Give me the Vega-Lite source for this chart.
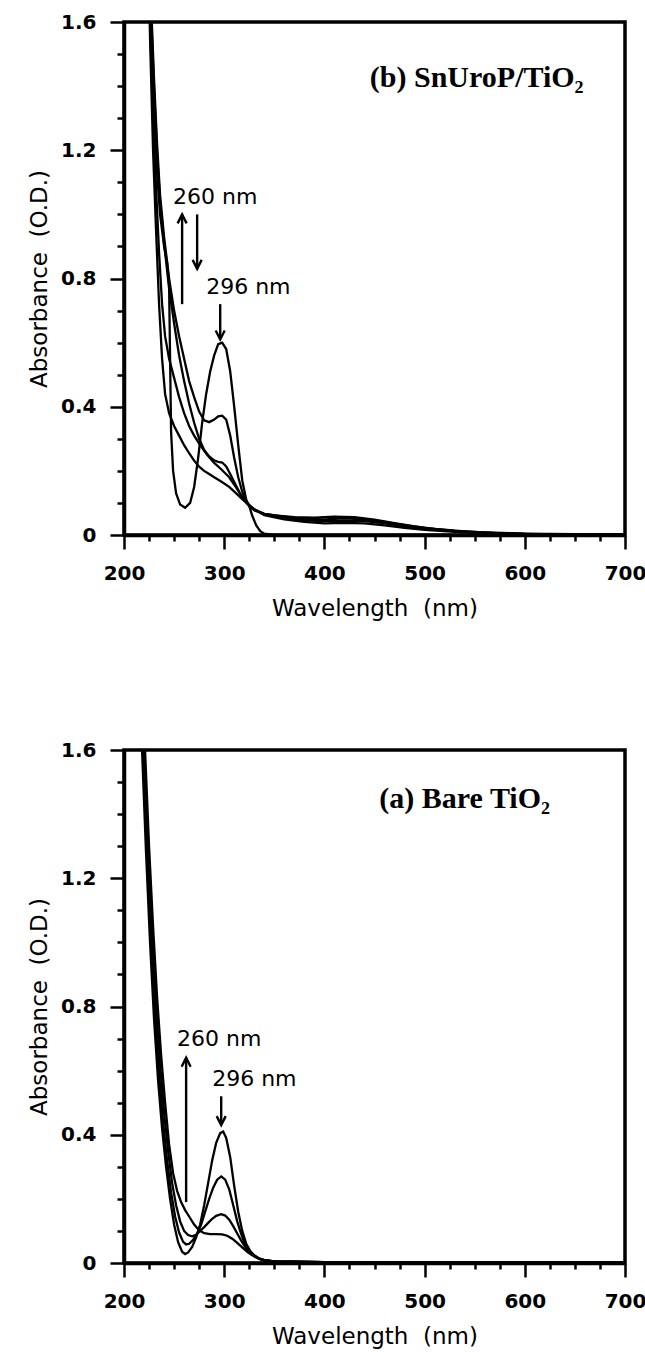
{
  "$schema": "https://vega.github.io/schema/vega-lite/v6.json",
  "background": "white",
  "padding": {"left": 26, "top": 10, "right": 0, "bottom": 0},
  "autosize": {"type": "pad"},
  "bounds": "flush",
  "spacing": 215,
  "config": {
    "view": {"stroke": "black", "strokeWidth": 3.5},
    "font": "DejaVu Sans",
    "axis": {"grid": false, "domainColor": "black", "domainWidth": 3.5, "tickColor": "black", "tickWidth": 2.5, "labelColor": "black", "titleColor": "black", "labelFont": "DejaVu Sans", "labelFontWeight": "bold", "labelFontSize": 20, "titleFont": "DejaVu Sans", "titleFontWeight": "normal", "titleFontSize": 23, "labelOverlap": false, "labelFlush": false, "labelBound": false}
  },
  "datasets": {
    "curves": [
      {"p":"b","c":"A","wl":224,"a":2.0},{"p":"b","c":"A","wl":227,"a":1.6},{"p":"b","c":"A","wl":230,"a":1.32},{"p":"b","c":"A","wl":233,"a":1.13},{"p":"b","c":"A","wl":236,"a":1.0},{"p":"b","c":"A","wl":240,"a":0.9},{"p":"b","c":"A","wl":243,"a":0.85},{"p":"b","c":"A","wl":245,"a":0.78},{"p":"b","c":"A","wl":246,"a":0.55},{"p":"b","c":"A","wl":247,"a":0.32},{"p":"b","c":"A","wl":249,"a":0.2},{"p":"b","c":"A","wl":252,"a":0.13},{"p":"b","c":"A","wl":256,"a":0.095},{"p":"b","c":"A","wl":261,"a":0.085},{"p":"b","c":"A","wl":266,"a":0.1},{"p":"b","c":"A","wl":270,"a":0.15},{"p":"b","c":"A","wl":274,"a":0.24},{"p":"b","c":"A","wl":278,"a":0.35},{"p":"b","c":"A","wl":282,"a":0.44},{"p":"b","c":"A","wl":286,"a":0.51},{"p":"b","c":"A","wl":290,"a":0.56},{"p":"b","c":"A","wl":294,"a":0.595},{"p":"b","c":"A","wl":298,"a":0.6},{"p":"b","c":"A","wl":302,"a":0.58},{"p":"b","c":"A","wl":306,"a":0.51},{"p":"b","c":"A","wl":310,"a":0.4},{"p":"b","c":"A","wl":314,"a":0.28},{"p":"b","c":"A","wl":318,"a":0.17},{"p":"b","c":"A","wl":322,"a":0.11},{"p":"b","c":"A","wl":325,"a":0.09},{"p":"b","c":"A","wl":328,"a":0.06},{"p":"b","c":"A","wl":332,"a":0.03},{"p":"b","c":"A","wl":336,"a":0.012},{"p":"b","c":"A","wl":340,"a":0.004},{"p":"b","c":"A","wl":350,"a":0},{"p":"b","c":"A","wl":700,"a":0},
      {"p":"b","c":"B","wl":224,"a":2.0},{"p":"b","c":"B","wl":227,"a":1.66},{"p":"b","c":"B","wl":230,"a":1.42},{"p":"b","c":"B","wl":233,"a":1.22},{"p":"b","c":"B","wl":236,"a":1.06},{"p":"b","c":"B","wl":240,"a":0.93},{"p":"b","c":"B","wl":245,"a":0.8},{"p":"b","c":"B","wl":250,"a":0.7},{"p":"b","c":"B","wl":255,"a":0.62},{"p":"b","c":"B","wl":260,"a":0.55},{"p":"b","c":"B","wl":265,"a":0.48},{"p":"b","c":"B","wl":270,"a":0.43},{"p":"b","c":"B","wl":275,"a":0.385},{"p":"b","c":"B","wl":280,"a":0.358},{"p":"b","c":"B","wl":285,"a":0.352},{"p":"b","c":"B","wl":290,"a":0.36},{"p":"b","c":"B","wl":294,"a":0.37},{"p":"b","c":"B","wl":298,"a":0.372},{"p":"b","c":"B","wl":302,"a":0.36},{"p":"b","c":"B","wl":306,"a":0.31},{"p":"b","c":"B","wl":310,"a":0.24},{"p":"b","c":"B","wl":314,"a":0.18},{"p":"b","c":"B","wl":318,"a":0.135},{"p":"b","c":"B","wl":322,"a":0.105},{"p":"b","c":"B","wl":326,"a":0.088},{"p":"b","c":"B","wl":330,"a":0.077},{"p":"b","c":"B","wl":340,"a":0.066},{"p":"b","c":"B","wl":350,"a":0.061},{"p":"b","c":"B","wl":370,"a":0.056},{"p":"b","c":"B","wl":390,"a":0.054},{"p":"b","c":"B","wl":410,"a":0.057},{"p":"b","c":"B","wl":430,"a":0.056},{"p":"b","c":"B","wl":450,"a":0.048},{"p":"b","c":"B","wl":470,"a":0.037},{"p":"b","c":"B","wl":490,"a":0.027},{"p":"b","c":"B","wl":510,"a":0.019},{"p":"b","c":"B","wl":540,"a":0.011},{"p":"b","c":"B","wl":570,"a":0.006},{"p":"b","c":"B","wl":620,"a":0.003},{"p":"b","c":"B","wl":700,"a":0.001},
      {"p":"b","c":"C","wl":224,"a":2.0},{"p":"b","c":"C","wl":227,"a":1.63},{"p":"b","c":"C","wl":230,"a":1.39},{"p":"b","c":"C","wl":233,"a":1.19},{"p":"b","c":"C","wl":236,"a":1.04},{"p":"b","c":"C","wl":240,"a":0.91},{"p":"b","c":"C","wl":245,"a":0.77},{"p":"b","c":"C","wl":250,"a":0.66},{"p":"b","c":"C","wl":255,"a":0.56},{"p":"b","c":"C","wl":260,"a":0.48},{"p":"b","c":"C","wl":265,"a":0.41},{"p":"b","c":"C","wl":270,"a":0.35},{"p":"b","c":"C","wl":275,"a":0.3},{"p":"b","c":"C","wl":280,"a":0.265},{"p":"b","c":"C","wl":285,"a":0.245},{"p":"b","c":"C","wl":290,"a":0.233},{"p":"b","c":"C","wl":294,"a":0.228},{"p":"b","c":"C","wl":298,"a":0.226},{"p":"b","c":"C","wl":302,"a":0.214},{"p":"b","c":"C","wl":306,"a":0.19},{"p":"b","c":"C","wl":310,"a":0.165},{"p":"b","c":"C","wl":315,"a":0.135},{"p":"b","c":"C","wl":320,"a":0.108},{"p":"b","c":"C","wl":325,"a":0.09},{"p":"b","c":"C","wl":330,"a":0.078},{"p":"b","c":"C","wl":340,"a":0.066},{"p":"b","c":"C","wl":360,"a":0.057},{"p":"b","c":"C","wl":380,"a":0.051},{"p":"b","c":"C","wl":400,"a":0.049},{"p":"b","c":"C","wl":420,"a":0.052},{"p":"b","c":"C","wl":440,"a":0.049},{"p":"b","c":"C","wl":460,"a":0.041},{"p":"b","c":"C","wl":480,"a":0.031},{"p":"b","c":"C","wl":500,"a":0.022},{"p":"b","c":"C","wl":530,"a":0.013},{"p":"b","c":"C","wl":560,"a":0.008},{"p":"b","c":"C","wl":600,"a":0.004},{"p":"b","c":"C","wl":700,"a":0.001},
      {"p":"b","c":"D","wl":223,"a":2.0},{"p":"b","c":"D","wl":226,"a":1.6},{"p":"b","c":"D","wl":229,"a":1.3},{"p":"b","c":"D","wl":232,"a":1.08},{"p":"b","c":"D","wl":235,"a":0.88},{"p":"b","c":"D","wl":238,"a":0.72},{"p":"b","c":"D","wl":241,"a":0.62},{"p":"b","c":"D","wl":245,"a":0.55},{"p":"b","c":"D","wl":250,"a":0.49},{"p":"b","c":"D","wl":255,"a":0.43},{"p":"b","c":"D","wl":260,"a":0.38},{"p":"b","c":"D","wl":265,"a":0.34},{"p":"b","c":"D","wl":270,"a":0.31},{"p":"b","c":"D","wl":276,"a":0.28},{"p":"b","c":"D","wl":283,"a":0.25},{"p":"b","c":"D","wl":290,"a":0.225},{"p":"b","c":"D","wl":297,"a":0.205},{"p":"b","c":"D","wl":305,"a":0.18},{"p":"b","c":"D","wl":312,"a":0.148},{"p":"b","c":"D","wl":318,"a":0.118},{"p":"b","c":"D","wl":325,"a":0.093},{"p":"b","c":"D","wl":330,"a":0.08},{"p":"b","c":"D","wl":340,"a":0.065},{"p":"b","c":"D","wl":360,"a":0.054},{"p":"b","c":"D","wl":380,"a":0.046},{"p":"b","c":"D","wl":400,"a":0.043},{"p":"b","c":"D","wl":420,"a":0.045},{"p":"b","c":"D","wl":440,"a":0.043},{"p":"b","c":"D","wl":460,"a":0.036},{"p":"b","c":"D","wl":480,"a":0.027},{"p":"b","c":"D","wl":500,"a":0.02},{"p":"b","c":"D","wl":530,"a":0.012},{"p":"b","c":"D","wl":560,"a":0.007},{"p":"b","c":"D","wl":600,"a":0.003},{"p":"b","c":"D","wl":700,"a":0.001},
      {"p":"b","c":"E","wl":223,"a":2.0},{"p":"b","c":"E","wl":226,"a":1.55},{"p":"b","c":"E","wl":229,"a":1.2},{"p":"b","c":"E","wl":232,"a":0.95},{"p":"b","c":"E","wl":235,"a":0.72},{"p":"b","c":"E","wl":238,"a":0.55},{"p":"b","c":"E","wl":241,"a":0.44},{"p":"b","c":"E","wl":245,"a":0.38},{"p":"b","c":"E","wl":250,"a":0.34},{"p":"b","c":"E","wl":255,"a":0.31},{"p":"b","c":"E","wl":260,"a":0.28},{"p":"b","c":"E","wl":265,"a":0.255},{"p":"b","c":"E","wl":270,"a":0.232},{"p":"b","c":"E","wl":275,"a":0.213},{"p":"b","c":"E","wl":280,"a":0.2},{"p":"b","c":"E","wl":285,"a":0.19},{"p":"b","c":"E","wl":290,"a":0.18},{"p":"b","c":"E","wl":297,"a":0.167},{"p":"b","c":"E","wl":305,"a":0.15},{"p":"b","c":"E","wl":312,"a":0.13},{"p":"b","c":"E","wl":318,"a":0.112},{"p":"b","c":"E","wl":325,"a":0.093},{"p":"b","c":"E","wl":330,"a":0.08},{"p":"b","c":"E","wl":340,"a":0.062},{"p":"b","c":"E","wl":360,"a":0.049},{"p":"b","c":"E","wl":380,"a":0.041},{"p":"b","c":"E","wl":400,"a":0.036},{"p":"b","c":"E","wl":420,"a":0.038},{"p":"b","c":"E","wl":440,"a":0.036},{"p":"b","c":"E","wl":460,"a":0.03},{"p":"b","c":"E","wl":480,"a":0.022},{"p":"b","c":"E","wl":500,"a":0.016},{"p":"b","c":"E","wl":530,"a":0.01},{"p":"b","c":"E","wl":560,"a":0.006},{"p":"b","c":"E","wl":600,"a":0.003},{"p":"b","c":"E","wl":700,"a":0.001},
      {"p":"a","c":"1","wl":214,"a":2.0},{"p":"a","c":"1","wl":218,"a":1.6},{"p":"a","c":"1","wl":222,"a":1.28},{"p":"a","c":"1","wl":226,"a":1.0},{"p":"a","c":"1","wl":230,"a":0.76},{"p":"a","c":"1","wl":234,"a":0.57},{"p":"a","c":"1","wl":238,"a":0.42},{"p":"a","c":"1","wl":242,"a":0.3},{"p":"a","c":"1","wl":246,"a":0.2},{"p":"a","c":"1","wl":250,"a":0.12},{"p":"a","c":"1","wl":254,"a":0.065},{"p":"a","c":"1","wl":258,"a":0.035},{"p":"a","c":"1","wl":261,"a":0.028},{"p":"a","c":"1","wl":264,"a":0.033},{"p":"a","c":"1","wl":268,"a":0.05},{"p":"a","c":"1","wl":272,"a":0.08},{"p":"a","c":"1","wl":276,"a":0.12},{"p":"a","c":"1","wl":280,"a":0.18},{"p":"a","c":"1","wl":284,"a":0.25},{"p":"a","c":"1","wl":288,"a":0.32},{"p":"a","c":"1","wl":292,"a":0.375},{"p":"a","c":"1","wl":296,"a":0.405},{"p":"a","c":"1","wl":299,"a":0.41},{"p":"a","c":"1","wl":302,"a":0.39},{"p":"a","c":"1","wl":306,"a":0.33},{"p":"a","c":"1","wl":310,"a":0.24},{"p":"a","c":"1","wl":314,"a":0.16},{"p":"a","c":"1","wl":318,"a":0.1},{"p":"a","c":"1","wl":322,"a":0.06},{"p":"a","c":"1","wl":326,"a":0.037},{"p":"a","c":"1","wl":330,"a":0.024},{"p":"a","c":"1","wl":335,"a":0.014},{"p":"a","c":"1","wl":340,"a":0.009},{"p":"a","c":"1","wl":350,"a":0.005},{"p":"a","c":"1","wl":400,"a":0.003},{"p":"a","c":"1","wl":700,"a":0.003},
      {"p":"a","c":"2","wl":215,"a":2.0},{"p":"a","c":"2","wl":219,"a":1.6},{"p":"a","c":"2","wl":223,"a":1.28},{"p":"a","c":"2","wl":227,"a":1.0},{"p":"a","c":"2","wl":231,"a":0.77},{"p":"a","c":"2","wl":235,"a":0.59},{"p":"a","c":"2","wl":239,"a":0.44},{"p":"a","c":"2","wl":243,"a":0.32},{"p":"a","c":"2","wl":247,"a":0.22},{"p":"a","c":"2","wl":251,"a":0.145},{"p":"a","c":"2","wl":255,"a":0.095},{"p":"a","c":"2","wl":259,"a":0.066},{"p":"a","c":"2","wl":262,"a":0.058},{"p":"a","c":"2","wl":265,"a":0.06},{"p":"a","c":"2","wl":269,"a":0.072},{"p":"a","c":"2","wl":273,"a":0.092},{"p":"a","c":"2","wl":277,"a":0.12},{"p":"a","c":"2","wl":281,"a":0.16},{"p":"a","c":"2","wl":285,"a":0.2},{"p":"a","c":"2","wl":289,"a":0.235},{"p":"a","c":"2","wl":293,"a":0.26},{"p":"a","c":"2","wl":297,"a":0.27},{"p":"a","c":"2","wl":301,"a":0.26},{"p":"a","c":"2","wl":305,"a":0.23},{"p":"a","c":"2","wl":309,"a":0.18},{"p":"a","c":"2","wl":313,"a":0.13},{"p":"a","c":"2","wl":317,"a":0.09},{"p":"a","c":"2","wl":321,"a":0.058},{"p":"a","c":"2","wl":325,"a":0.037},{"p":"a","c":"2","wl":330,"a":0.022},{"p":"a","c":"2","wl":335,"a":0.013},{"p":"a","c":"2","wl":340,"a":0.008},{"p":"a","c":"2","wl":350,"a":0.005},{"p":"a","c":"2","wl":400,"a":0.003},{"p":"a","c":"2","wl":700,"a":0.003},
      {"p":"a","c":"3","wl":216,"a":2.0},{"p":"a","c":"3","wl":220,"a":1.6},{"p":"a","c":"3","wl":224,"a":1.3},{"p":"a","c":"3","wl":228,"a":1.02},{"p":"a","c":"3","wl":232,"a":0.8},{"p":"a","c":"3","wl":236,"a":0.62},{"p":"a","c":"3","wl":240,"a":0.47},{"p":"a","c":"3","wl":244,"a":0.35},{"p":"a","c":"3","wl":248,"a":0.25},{"p":"a","c":"3","wl":252,"a":0.18},{"p":"a","c":"3","wl":256,"a":0.13},{"p":"a","c":"3","wl":260,"a":0.1},{"p":"a","c":"3","wl":264,"a":0.087},{"p":"a","c":"3","wl":268,"a":0.083},{"p":"a","c":"3","wl":272,"a":0.088},{"p":"a","c":"3","wl":276,"a":0.1},{"p":"a","c":"3","wl":280,"a":0.112},{"p":"a","c":"3","wl":284,"a":0.125},{"p":"a","c":"3","wl":288,"a":0.138},{"p":"a","c":"3","wl":292,"a":0.147},{"p":"a","c":"3","wl":297,"a":0.152},{"p":"a","c":"3","wl":301,"a":0.148},{"p":"a","c":"3","wl":305,"a":0.135},{"p":"a","c":"3","wl":309,"a":0.115},{"p":"a","c":"3","wl":313,"a":0.092},{"p":"a","c":"3","wl":317,"a":0.07},{"p":"a","c":"3","wl":321,"a":0.05},{"p":"a","c":"3","wl":325,"a":0.034},{"p":"a","c":"3","wl":330,"a":0.021},{"p":"a","c":"3","wl":335,"a":0.013},{"p":"a","c":"3","wl":340,"a":0.008},{"p":"a","c":"3","wl":350,"a":0.005},{"p":"a","c":"3","wl":400,"a":0.003},{"p":"a","c":"3","wl":700,"a":0.003},
      {"p":"a","c":"4","wl":217,"a":2.0},{"p":"a","c":"4","wl":221,"a":1.6},{"p":"a","c":"4","wl":225,"a":1.3},{"p":"a","c":"4","wl":229,"a":1.05},{"p":"a","c":"4","wl":233,"a":0.83},{"p":"a","c":"4","wl":237,"a":0.65},{"p":"a","c":"4","wl":241,"a":0.5},{"p":"a","c":"4","wl":245,"a":0.37},{"p":"a","c":"4","wl":249,"a":0.28},{"p":"a","c":"4","wl":253,"a":0.225},{"p":"a","c":"4","wl":257,"a":0.19},{"p":"a","c":"4","wl":261,"a":0.165},{"p":"a","c":"4","wl":265,"a":0.145},{"p":"a","c":"4","wl":270,"a":0.12},{"p":"a","c":"4","wl":275,"a":0.102},{"p":"a","c":"4","wl":280,"a":0.093},{"p":"a","c":"4","wl":286,"a":0.09},{"p":"a","c":"4","wl":292,"a":0.09},{"p":"a","c":"4","wl":298,"a":0.089},{"p":"a","c":"4","wl":303,"a":0.085},{"p":"a","c":"4","wl":308,"a":0.076},{"p":"a","c":"4","wl":313,"a":0.063},{"p":"a","c":"4","wl":318,"a":0.049},{"p":"a","c":"4","wl":323,"a":0.035},{"p":"a","c":"4","wl":328,"a":0.024},{"p":"a","c":"4","wl":334,"a":0.015},{"p":"a","c":"4","wl":340,"a":0.009},{"p":"a","c":"4","wl":350,"a":0.005},{"p":"a","c":"4","wl":400,"a":0.003},{"p":"a","c":"4","wl":700,"a":0.003}
    ],
    "arrows": [
      {"p":"b","wl":258,"a":1.0,"a2":0.72,"dir":"up"},
      {"p":"b","wl":273,"a":0.83,"a2":1.0,"dir":"down"},
      {"p":"b","wl":296,"a":0.61,"a2":0.72,"dir":"down"},
      {"p":"a","wl":262,"a":0.64,"a2":0.19,"dir":"up"},
      {"p":"a","wl":297,"a":0.43,"a2":0.52,"dir":"down"}
    ],
    "notes": [
      {"p":"b","k":"nm","wl":249,"a":1.055,"t":"260 nm"},
      {"p":"b","k":"nm","wl":282,"a":0.772,"t":"296 nm"},
      {"p":"b","k":"title","wl":552,"a":1.425,"t":"(b) SnUroP/TiO₂"},
      {"p":"a","k":"nm","wl":253,"a":0.70,"t":"260 nm"},
      {"p":"a","k":"nm","wl":288,"a":0.573,"t":"296 nm"},
      {"p":"a","k":"title","wl":540,"a":1.448,"t":"(a) Bare TiO₂"}
    ]
  },
  "vconcat": [
    {
      "width": 501, "height": 513,
      "encoding": {
        "x": {"field": "wl", "type": "quantitative", "scale": {"domain": [200, 700], "nice": false, "zero": false},
          "axis": {"title": "Wavelength\u00a0 (nm)", "values": [200,225,250,275,300,325,350,375,400,425,450,475,500,525,550,575,600,625,650,675,700], "labelExpr": "datum.value % 100 === 0 ? datum.label : ''", "tickSize": {"condition": {"test": "datum.value % 100 === 0", "value": 14}, "value": 6}, "labelPadding": 14, "titlePadding": 14}},
        "y": {"field": "a", "type": "quantitative", "scale": {"domain": [0, 1.6], "nice": false, "zero": false},
          "axis": {"title": "Absorbance\u00a0 (O.D.)", "values": [0,0.1,0.2,0.3,0.4,0.5,0.6,0.7,0.8,0.9,1.0,1.1,1.2,1.3,1.4,1.5,1.6], "labelExpr": "round(datum.value*10) % 4 === 0 ? (datum.value === 0 ? '0' : format(datum.value, '.1f')) : ''", "tickSize": {"condition": {"test": "round(datum.value*10) % 4 === 0", "value": 14}, "value": 7}, "labelPadding": 14, "titlePadding": 9}}
      },
      "layer": [
        {"data": {"name": "curves"}, "transform": [{"filter": "datum.p === 'b'"}], "mark": {"type": "line", "clip": true, "color": "black", "strokeWidth": 2.3}, "encoding": {"detail": {"field": "c", "type": "nominal"}}},
        {"data": {"name": "arrows"}, "transform": [{"filter": "datum.p === 'b'"}], "mark": {"type": "rule", "color": "black", "strokeWidth": 2.4}, "encoding": {"y2": {"field": "a2"}}},
        {"data": {"name": "arrows"}, "transform": [{"filter": "datum.p === 'b'"}], "mark": {"type": "point", "filled": false, "stroke": "black", "strokeWidth": 2.4, "size": 100, "opacity": 1}, "encoding": {"shape": {"field": "dir", "type": "nominal", "scale": {"domain": ["up", "down"], "range": ["M-0.9,1.8L0,0L0.9,1.8", "M-0.9,-1.8L0,0L0.9,-1.8"]}, "legend": null}}},
        {"data": {"name": "notes"}, "transform": [{"filter": "datum.p === 'b' && datum.k === 'nm'"}], "mark": {"type": "text", "align": "left", "baseline": "middle", "fontSize": 22, "font": "DejaVu Sans", "color": "black"}, "encoding": {"text": {"field": "t", "type": "nominal"}}},
        {"data": {"name": "notes"}, "transform": [{"filter": "datum.p === 'b' && datum.k === 'title'"}], "mark": {"type": "text", "align": "center", "baseline": "middle", "fontSize": 30, "font": "Liberation Serif", "fontWeight": "bold", "color": "black"}, "encoding": {"text": {"field": "t", "type": "nominal"}}}
      ]
    },
    {
      "width": 501, "height": 513,
      "encoding": {
        "x": {"field": "wl", "type": "quantitative", "scale": {"domain": [200, 700], "nice": false, "zero": false},
          "axis": {"title": "Wavelength\u00a0 (nm)", "values": [200,225,250,275,300,325,350,375,400,425,450,475,500,525,550,575,600,625,650,675,700], "labelExpr": "datum.value % 100 === 0 ? datum.label : ''", "tickSize": {"condition": {"test": "datum.value % 100 === 0", "value": 14}, "value": 6}, "labelPadding": 14, "titlePadding": 14}},
        "y": {"field": "a", "type": "quantitative", "scale": {"domain": [0, 1.6], "nice": false, "zero": false},
          "axis": {"title": "Absorbance\u00a0 (O.D.)", "values": [0,0.1,0.2,0.3,0.4,0.5,0.6,0.7,0.8,0.9,1.0,1.1,1.2,1.3,1.4,1.5,1.6], "labelExpr": "round(datum.value*10) % 4 === 0 ? (datum.value === 0 ? '0' : format(datum.value, '.1f')) : ''", "tickSize": {"condition": {"test": "round(datum.value*10) % 4 === 0", "value": 14}, "value": 7}, "labelPadding": 14, "titlePadding": 9}}
      },
      "layer": [
        {"data": {"name": "curves"}, "transform": [{"filter": "datum.p === 'a'"}], "mark": {"type": "line", "clip": true, "color": "black", "strokeWidth": 2.3}, "encoding": {"detail": {"field": "c", "type": "nominal"}}},
        {"data": {"name": "arrows"}, "transform": [{"filter": "datum.p === 'a'"}], "mark": {"type": "rule", "color": "black", "strokeWidth": 2.4}, "encoding": {"y2": {"field": "a2"}}},
        {"data": {"name": "arrows"}, "transform": [{"filter": "datum.p === 'a'"}], "mark": {"type": "point", "filled": false, "stroke": "black", "strokeWidth": 2.4, "size": 100, "opacity": 1}, "encoding": {"shape": {"field": "dir", "type": "nominal", "scale": {"domain": ["up", "down"], "range": ["M-0.9,1.8L0,0L0.9,1.8", "M-0.9,-1.8L0,0L0.9,-1.8"]}, "legend": null}}},
        {"data": {"name": "notes"}, "transform": [{"filter": "datum.p === 'a' && datum.k === 'nm'"}], "mark": {"type": "text", "align": "left", "baseline": "middle", "fontSize": 22, "font": "DejaVu Sans", "color": "black"}, "encoding": {"text": {"field": "t", "type": "nominal"}}},
        {"data": {"name": "notes"}, "transform": [{"filter": "datum.p === 'a' && datum.k === 'title'"}], "mark": {"type": "text", "align": "center", "baseline": "middle", "fontSize": 30, "font": "Liberation Serif", "fontWeight": "bold", "color": "black"}, "encoding": {"text": {"field": "t", "type": "nominal"}}}
      ]
    }
  ]
}
